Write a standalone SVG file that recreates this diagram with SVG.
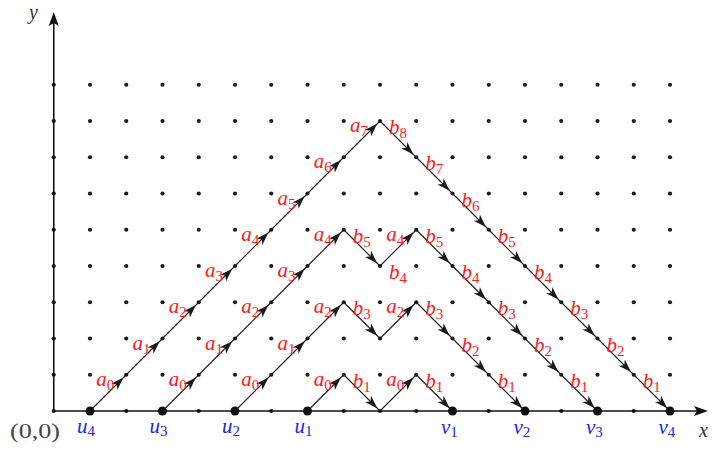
<svg xmlns="http://www.w3.org/2000/svg" xmlns:xlink="http://www.w3.org/1999/xlink" width="712" height="449" viewBox="0 0 712 449">
<style>
.dot{fill:#1a1a1a}
.big{fill:#111}
.axis{stroke:#111;stroke-width:1.6;fill:none}
.step{stroke:#1a1a1a;stroke-width:1.1;marker-end:url(#ah)}
.lab{font-family:"Liberation Serif",serif;font-style:italic;font-size:21px;fill:#ff1a1a}
.lab tspan{font-style:normal;font-size:15px}
.ep{font-family:"Liberation Serif",serif;font-style:italic;font-size:21px;fill:#2222ee}
.ep tspan{font-style:normal;font-size:15px}
.ax{font-family:"Liberation Serif",serif;font-style:italic;font-size:20px;fill:#333}
.org{font-family:"Liberation Serif",serif;font-size:22px;fill:#444}
</style>
<defs>
<marker id="ah" markerUnits="userSpaceOnUse" markerWidth="18" markerHeight="10" viewBox="0 0 18 10" refX="17" refY="5" orient="auto">
<path d="M0,0.6 L13,5 L0,9.4 L3.5,5 z" fill="#1a1a1a"/>
</marker>
<circle id="d" r="2.1" class="dot"/>
</defs>

<g id="grid">
<g id="row0"><use href="#d" x="53.75" y="411"/><use href="#d" x="90" y="411"/><use href="#d" x="126.25" y="411"/><use href="#d" x="162.5" y="411"/><use href="#d" x="198.75" y="411"/><use href="#d" x="235" y="411"/><use href="#d" x="271.25" y="411"/><use href="#d" x="307.5" y="411"/><use href="#d" x="343.75" y="411"/><use href="#d" x="380" y="411"/><use href="#d" x="416.25" y="411"/><use href="#d" x="452.5" y="411"/><use href="#d" x="488.75" y="411"/><use href="#d" x="525" y="411"/><use href="#d" x="561.25" y="411"/><use href="#d" x="597.5" y="411"/><use href="#d" x="633.75" y="411"/><use href="#d" x="670" y="411"/></g>
<use href="#row0" y="-36.25"/>
<use href="#row0" y="-72.5"/>
<use href="#row0" y="-108.75"/>
<use href="#row0" y="-145"/>
<use href="#row0" y="-181.25"/>
<use href="#row0" y="-217.5"/>
<use href="#row0" y="-253.75"/>
<use href="#row0" y="-290"/>
<use href="#row0" y="-326.25"/>
</g>

<g id="axes">
<line class="axis" x1="53.75" y1="411" x2="698" y2="411"/>
<polygon points="708,411 694,406 697,411 694,416" fill="#111"/>
<line class="axis" x1="53.75" y1="411" x2="53.75" y2="22"/>
<polygon points="53.75,12 48.75,26 53.75,23 58.75,26" fill="#111"/>
<text class="ax" x="699" y="437">x</text>
<text class="ax" x="29" y="19">y</text>
<text class="org" x="10" y="438" textLength="50" lengthAdjust="spacingAndGlyphs">(0,0)</text>
</g>

<g id="connectors">
<g id="path-u4-v4">
<line class="step" x1="90" y1="411" x2="126.25" y2="374.75"/>
<line class="step" x1="126.25" y1="374.75" x2="162.5" y2="338.5"/>
<line class="step" x1="162.5" y1="338.5" x2="198.75" y2="302.25"/>
<line class="step" x1="198.75" y1="302.25" x2="235" y2="266"/>
<line class="step" x1="235" y1="266" x2="271.25" y2="229.75"/>
<line class="step" x1="271.25" y1="229.75" x2="307.5" y2="193.5"/>
<line class="step" x1="307.5" y1="193.5" x2="343.75" y2="157.25"/>
<line class="step" x1="343.75" y1="157.25" x2="380" y2="121"/>
<line class="step" x1="380" y1="121" x2="416.25" y2="157.25"/>
<line class="step" x1="416.25" y1="157.25" x2="452.5" y2="193.5"/>
<line class="step" x1="452.5" y1="193.5" x2="488.75" y2="229.75"/>
<line class="step" x1="488.75" y1="229.75" x2="525" y2="266"/>
<line class="step" x1="525" y1="266" x2="561.25" y2="302.25"/>
<line class="step" x1="561.25" y1="302.25" x2="597.5" y2="338.5"/>
<line class="step" x1="597.5" y1="338.5" x2="633.75" y2="374.75"/>
<line class="step" x1="633.75" y1="374.75" x2="670" y2="411"/>
</g>
<g id="path-u3-v3">
<line class="step" x1="162.5" y1="411" x2="198.75" y2="374.75"/>
<line class="step" x1="198.75" y1="374.75" x2="235" y2="338.5"/>
<line class="step" x1="235" y1="338.5" x2="271.25" y2="302.25"/>
<line class="step" x1="271.25" y1="302.25" x2="307.5" y2="266"/>
<line class="step" x1="307.5" y1="266" x2="343.75" y2="229.75"/>
<line class="step" x1="343.75" y1="229.75" x2="380" y2="266"/>
<line class="step" x1="380" y1="266" x2="416.25" y2="229.75"/>
<line class="step" x1="416.25" y1="229.75" x2="452.5" y2="266"/>
<line class="step" x1="452.5" y1="266" x2="488.75" y2="302.25"/>
<line class="step" x1="488.75" y1="302.25" x2="525" y2="338.5"/>
<line class="step" x1="525" y1="338.5" x2="561.25" y2="374.75"/>
<line class="step" x1="561.25" y1="374.75" x2="597.5" y2="411"/>
</g>
<g id="path-u2-v2">
<line class="step" x1="235" y1="411" x2="271.25" y2="374.75"/>
<line class="step" x1="271.25" y1="374.75" x2="307.5" y2="338.5"/>
<line class="step" x1="307.5" y1="338.5" x2="343.75" y2="302.25"/>
<line class="step" x1="343.75" y1="302.25" x2="380" y2="338.5"/>
<line class="step" x1="380" y1="338.5" x2="416.25" y2="302.25"/>
<line class="step" x1="416.25" y1="302.25" x2="452.5" y2="338.5"/>
<line class="step" x1="452.5" y1="338.5" x2="488.75" y2="374.75"/>
<line class="step" x1="488.75" y1="374.75" x2="525" y2="411"/>
</g>
<g id="path-u1-v1">
<line class="step" x1="307.5" y1="411" x2="343.75" y2="374.75"/>
<line class="step" x1="343.75" y1="374.75" x2="380" y2="411"/>
<line class="step" x1="380" y1="411" x2="416.25" y2="374.75"/>
<line class="step" x1="416.25" y1="374.75" x2="452.5" y2="411"/>
</g>
</g>

<g id="step-labels">
<text class="lab" x="96.25" y="385.75">a<tspan dy="4">0</tspan></text>
<text class="lab" x="132.5" y="349.5">a<tspan dy="4">1</tspan></text>
<text class="lab" x="168.75" y="313.25">a<tspan dy="4">2</tspan></text>
<text class="lab" x="205" y="277">a<tspan dy="4">3</tspan></text>
<text class="lab" x="241.25" y="240.75">a<tspan dy="4">4</tspan></text>
<text class="lab" x="277.5" y="204.5">a<tspan dy="4">5</tspan></text>
<text class="lab" x="313.75" y="168.25">a<tspan dy="4">6</tspan></text>
<text class="lab" x="350" y="132">a<tspan dy="4">7</tspan></text>
<text class="lab" x="389" y="134">b<tspan dy="4">8</tspan></text>
<text class="lab" x="425.25" y="170.25">b<tspan dy="4">7</tspan></text>
<text class="lab" x="461.5" y="206.5">b<tspan dy="4">6</tspan></text>
<text class="lab" x="497.75" y="242.75">b<tspan dy="4">5</tspan></text>
<text class="lab" x="534" y="279">b<tspan dy="4">4</tspan></text>
<text class="lab" x="570.25" y="315.25">b<tspan dy="4">3</tspan></text>
<text class="lab" x="606.5" y="351.5">b<tspan dy="4">2</tspan></text>
<text class="lab" x="642.75" y="387.75">b<tspan dy="4">1</tspan></text>

<text class="lab" x="168.75" y="385.75">a<tspan dy="4">0</tspan></text>
<text class="lab" x="205" y="349.5">a<tspan dy="4">1</tspan></text>
<text class="lab" x="241.25" y="313.25">a<tspan dy="4">2</tspan></text>
<text class="lab" x="277.5" y="277">a<tspan dy="4">3</tspan></text>
<text class="lab" x="313.75" y="240.75">a<tspan dy="4">4</tspan></text>
<text class="lab" x="352.75" y="242.75">b<tspan dy="4">5</tspan></text>
<text class="lab" x="389" y="279">b<tspan dy="4">4</tspan></text>
<text class="lab" x="386.25" y="240.75">a<tspan dy="4">4</tspan></text>
<text class="lab" x="425.25" y="242.75">b<tspan dy="4">5</tspan></text>
<text class="lab" x="461.5" y="279">b<tspan dy="4">4</tspan></text>
<text class="lab" x="497.75" y="315.25">b<tspan dy="4">3</tspan></text>
<text class="lab" x="534" y="351.5">b<tspan dy="4">2</tspan></text>
<text class="lab" x="570.25" y="387.75">b<tspan dy="4">1</tspan></text>

<text class="lab" x="241.25" y="385.75">a<tspan dy="4">0</tspan></text>
<text class="lab" x="277.5" y="349.5">a<tspan dy="4">1</tspan></text>
<text class="lab" x="313.75" y="313.25">a<tspan dy="4">2</tspan></text>
<text class="lab" x="352.75" y="315.25">b<tspan dy="4">3</tspan></text>
<text class="lab" x="386.25" y="313.25">a<tspan dy="4">2</tspan></text>
<text class="lab" x="425.25" y="315.25">b<tspan dy="4">3</tspan></text>
<text class="lab" x="461.5" y="351.5">b<tspan dy="4">2</tspan></text>
<text class="lab" x="497.75" y="387.75">b<tspan dy="4">1</tspan></text>

<text class="lab" x="313.75" y="385.75">a<tspan dy="4">0</tspan></text>
<text class="lab" x="352.75" y="387.75">b<tspan dy="4">1</tspan></text>
<text class="lab" x="386.25" y="385.75">a<tspan dy="4">0</tspan></text>
<text class="lab" x="425.25" y="387.75">b<tspan dy="4">1</tspan></text>
</g>

<g id="u4"><circle class="big" cx="90" cy="411" r="4.5"/><text class="ep" x="77" y="433">u<tspan dy="3">4</tspan></text></g>
<g id="u3"><circle class="big" cx="162.5" cy="411" r="4.5"/><text class="ep" x="149.5" y="433">u<tspan dy="3">3</tspan></text></g>
<g id="u2"><circle class="big" cx="235" cy="411" r="4.5"/><text class="ep" x="222" y="433">u<tspan dy="3">2</tspan></text></g>
<g id="u1"><circle class="big" cx="307.5" cy="411" r="4.5"/><text class="ep" x="294.5" y="433">u<tspan dy="3">1</tspan></text></g>
<g id="v1"><circle class="big" cx="452.5" cy="411" r="4.5"/><text class="ep" x="441" y="434">v<tspan dy="3">1</tspan></text></g>
<g id="v2"><circle class="big" cx="525" cy="411" r="4.5"/><text class="ep" x="513.5" y="434">v<tspan dy="3">2</tspan></text></g>
<g id="v3"><circle class="big" cx="597.5" cy="411" r="4.5"/><text class="ep" x="586" y="434">v<tspan dy="3">3</tspan></text></g>
<g id="v4"><circle class="big" cx="670" cy="411" r="4.5"/><text class="ep" x="658.5" y="434">v<tspan dy="3">4</tspan></text></g>
</svg>
